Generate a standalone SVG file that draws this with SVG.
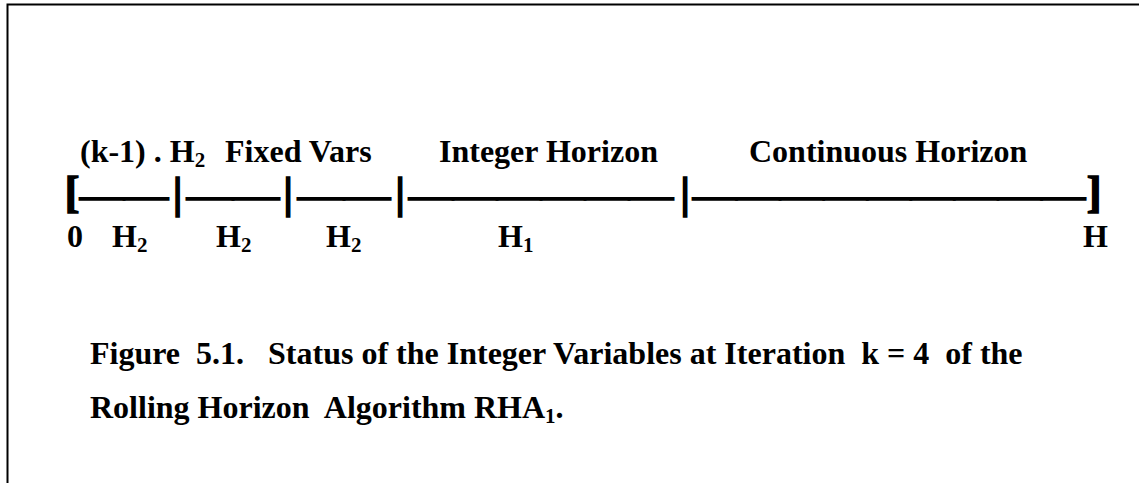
<svg xmlns="http://www.w3.org/2000/svg" width="1139" height="483" viewBox="0 0 1139 483">
<style>
.t{font-family:"Liberation Serif","Times New Roman",serif;font-weight:bold;font-size:32px;fill:#000;white-space:pre}
.s{font-size:21px}
.b{font-family:"Liberation Serif","Times New Roman",serif;font-weight:bold;font-size:30px;fill:#000;stroke:#000;stroke-width:1.6}
.k{font-family:"Liberation Serif","Times New Roman",serif;font-weight:bold;font-size:44px;fill:#000;stroke:#000;stroke-width:1.6}
</style>
<rect width="1139" height="483" fill="#fff"/>
<g id="frame" fill="none" stroke="#000" stroke-width="2">
<path d="M7.5 483 V4.5 H1139"/>
</g>
<g id="labels-top">
<text class="t" x="80" y="162">(k-1) . H<tspan class="s" dy="5">2</tspan></text>
<text class="t" x="225" y="162">Fixed Vars</text>
<text class="t" x="439" y="162">Integer Horizon</text>
<text class="t" x="749" y="162">Continuous Horizon</text>
</g>
<g id="bar">
<text class="k" x="72" y="207" text-anchor="middle">[</text>
<text class="b" x="80" y="206" textLength="88" lengthAdjust="spacingAndGlyphs">——</text>
<text class="k" x="177.5" y="208" text-anchor="middle">|</text>
<text class="b" x="187" y="206" textLength="92" lengthAdjust="spacingAndGlyphs">——</text>
<text class="k" x="288" y="208" text-anchor="middle">|</text>
<text class="b" x="298" y="206" textLength="92" lengthAdjust="spacingAndGlyphs">——</text>
<text class="k" x="400" y="208" text-anchor="middle">|</text>
<text class="b" x="409" y="206" textLength="264" lengthAdjust="spacingAndGlyphs">——————</text>
<text class="k" x="685" y="208" text-anchor="middle">|</text>
<text class="b" x="693" y="206" textLength="392" lengthAdjust="spacingAndGlyphs">—————————</text>
<text class="k" x="1094" y="207" text-anchor="middle">]</text>
</g>
<g id="labels-bottom">
<text class="t" x="67" y="247">0</text>
<text class="t" x="112" y="247">H<tspan class="s" dy="5">2</tspan></text>
<text class="t" x="216" y="247">H<tspan class="s" dy="5">2</tspan></text>
<text class="t" x="326" y="247">H<tspan class="s" dy="5">2</tspan></text>
<text class="t" x="498" y="247">H<tspan class="s" dy="5">1</tspan></text>
<text class="t" x="1083" y="247">H</text>
</g>
<g id="caption">
<text class="t" x="90" y="364">Figure  5.1.   Status of the Integer Variables at Iteration  k = 4  of the</text>
<text class="t" x="90" y="418">Rolling Horizon  Algorithm RHA<tspan class="s" dy="5">1</tspan><tspan dy="-5">.</tspan></text>
</g>
</svg>
